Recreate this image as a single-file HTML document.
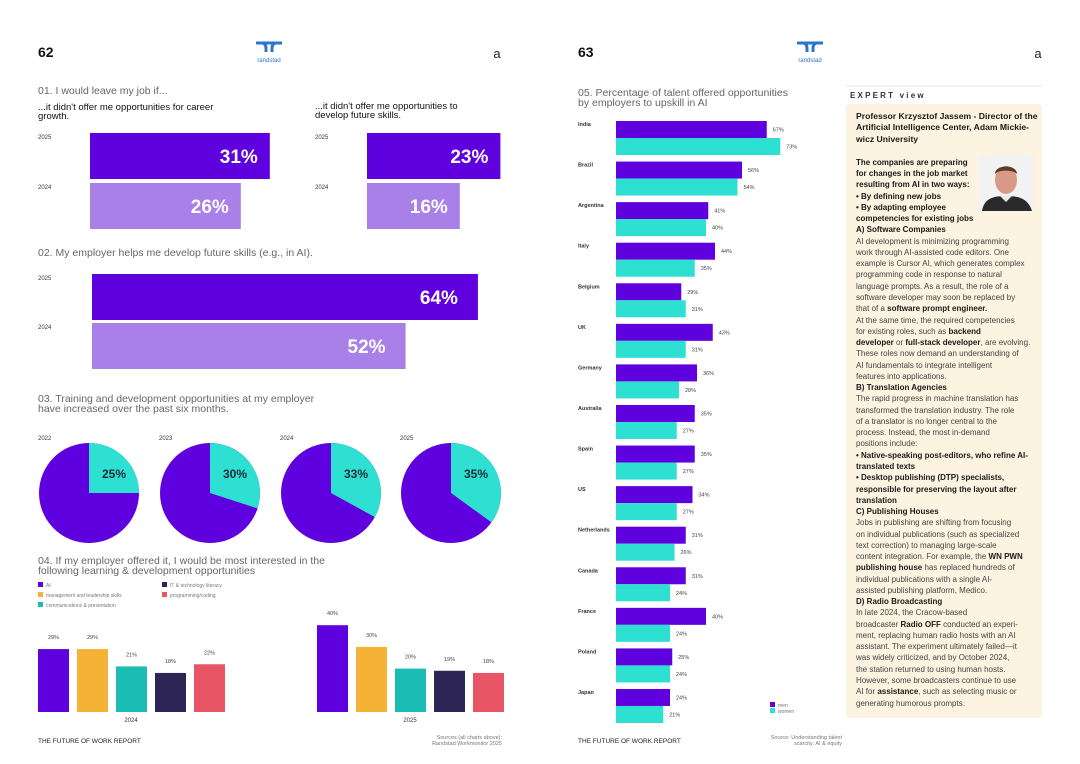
<!DOCTYPE html>
<html><head><meta charset="utf-8"><style>
body{margin:0;background:#fff;}
svg{display:block;font-family:"Liberation Sans",sans-serif;}
.exp{position:absolute;left:856px;top:111px;font-family:"Liberation Sans",sans-serif;font-size:8px;line-height:11.27px;color:#444;white-space:nowrap;}
.exp b{color:#1a1a1a;}
</style></head><body>
<div style="position:relative;width:1080px;height:764px;overflow:hidden">
<svg id="s" width="1080" height="764" viewBox="0 0 1080 764">
 <g>
  <text x="38" y="57" font-size="14" font-weight="bold" fill="#111">62</text>
  <path d="M256 43h26M262 43c2 0 4 2 4 5v4M276 43c-2 0-4 2-4 5v4" stroke="#2e74c8" stroke-width="3" fill="none"/>
  <text x="269" y="62" font-size="6" fill="#2e74c8" text-anchor="middle">randstad</text>
  <text x="497" y="58" font-size="13" fill="#222" text-anchor="middle">a</text>
 </g>
 <g>
  <text x="578" y="57" font-size="14" font-weight="bold" fill="#111">63</text>
  <path d="M797 43h26M803 43c2 0 4 2 4 5v4M817 43c-2 0-4 2-4 5v4" stroke="#2e74c8" stroke-width="3" fill="none"/>
  <text x="810" y="62" font-size="6" fill="#2e74c8" text-anchor="middle">randstad</text>
  <text x="1038" y="58" font-size="13" fill="#222" text-anchor="middle">a</text>
 </g>
 <g fill="#666" font-size="10.5">
  <text x="38" y="94">01. I would leave my job if...</text>
  <text x="38" y="256">02. My employer helps me develop future skills (e.g., in AI).</text>
  <text x="38" y="402">03. Training and development opportunities at my employer</text>
  <text x="38" y="412">have increased over the past six months.</text>
  <text x="38" y="564">04. If my employer offered it, I would be most interested in the</text>
  <text x="38" y="574">following learning &amp; development opportunities</text>
  <text x="578" y="96">05. Percentage of talent offered opportunities</text>
  <text x="578" y="106">by employers to upskill in AI</text>
 </g>
 <g fill="#111" font-size="9.5">
  <text x="38" y="110">...it didn't offer me opportunities for career</text>
  <text x="38" y="119">growth.</text>
  <text x="315" y="109">...it didn't offer me opportunities to</text>
  <text x="315" y="118">develop future skills.</text>
 </g>
 <g id="q1"></g>
 <g id="q2"></g>
 <g id="q3"></g>
 <g id="q4"></g>
 <g id="q5"></g>
 <g font-size="6.5" fill="#222">
  <text x="38" y="743">THE FUTURE OF WORK REPORT</text>
  <text x="578" y="743">THE FUTURE OF WORK REPORT</text>
  <text x="502" y="739" text-anchor="end" fill="#777" font-size="5.5">Sources (all charts above):</text>
  <text x="502" y="745" text-anchor="end" fill="#777" font-size="5.5">Randstad Workmonitor 2025</text>
  <text x="842" y="739" text-anchor="end" fill="#777" font-size="5.5">Source: Understanding talent</text>
  <text x="842" y="745" text-anchor="end" fill="#777" font-size="5.5">scarcity: AI &amp; equity</text>
 </g>
 <line x1="846" y1="86" x2="1042" y2="86" stroke="#e6e6e6"/>
 <text x="850" y="98" font-size="8" font-weight="bold" letter-spacing="2.2" fill="#333">EXPERT view</text>
 <rect x="846" y="104" width="196" height="614" rx="4" fill="#fcf3e0"/>
 <g>
  <rect x="978" y="155" width="56" height="56" fill="#f2f2f2"/>
  <path d="M982 211c2-12 10-15 24-15s22 3 26 15z" fill="#2a2a2a"/>
  <path d="M1000 196l6 6 6-6z" fill="#e8e8e8"/>
  <ellipse cx="1006" cy="180" rx="11" ry="14" fill="#d89a86"/>
  <path d="M995 174c0-10 22-10 22 0c-3-4-18-5-22 0z" fill="#5a3a2a"/>
 </g>
</svg>
<div class="exp">
<b style="font-size:8.6px">Professor Krzysztof Jassem - Director of the</b><br>
<b style="font-size:8.6px">Artificial Intelligence Center, Adam Mickie-</b><br>
<b style="font-size:8.6px">wicz University</b><br>
<div style="height:12px"></div>
<b>The companies are preparing</b><br>
<b>for changes in the job market</b><br>
<b>resulting from AI in two ways:</b><br>
<b>• By defining new jobs</b><br>
<b>• By adapting employee</b><br>
<b>competencies for existing jobs</b><br>
<b>A) Software Companies</b><br>
AI development is minimizing programming<br>
work through AI-assisted code editors. One<br>
example is Cursor AI, which generates complex<br>
programming code in response to natural<br>
language prompts. As a result, the role of a<br>
software developer may soon be replaced by<br>
that of a <b>software prompt engineer.</b><br>
At the same time, the required competencies<br>
for existing roles, such as <b>backend</b><br>
<b>developer</b> or <b>full-stack developer</b>, are evolving.<br>
These roles now demand an understanding of<br>
AI fundamentals to integrate intelligent<br>
features into applications.<br>
<b>B) Translation Agencies</b><br>
The rapid progress in machine translation has<br>
transformed the translation industry. The role<br>
of a translator is no longer central to the<br>
process. Instead, the most in-demand<br>
positions include:<br>
<b>• Native-speaking post-editors, who refine AI-</b><br>
<b>translated texts</b><br>
<b>• Desktop publishing (DTP) specialists,</b><br>
<b>responsible for preserving the layout after</b><br>
<b>translation</b><br>
<b>C) Publishing Houses</b><br>
Jobs in publishing are shifting from focusing<br>
on individual publications (such as specialized<br>
text correction) to managing large-scale<br>
content integration. For example, the <b>WN PWN</b><br>
<b>publishing house</b> has replaced hundreds of<br>
individual publications with a single AI-<br>
assisted publishing platform, Medico.<br>
<b>D) Radio Broadcasting</b><br>
In late 2024, the Cracow-based<br>
broadcaster <b>Radio OFF</b> conducted an experi-<br>
ment, replacing human radio hosts with an AI<br>
assistant. The experiment ultimately failed—it<br>
was widely criticized, and by October 2024,<br>
the station returned to using human hosts.<br>
However, some broadcasters continue to use<br>
AI for <b>assistance</b>, such as selecting music or<br>
generating humorous prompts.
</div>
</div>
<script>
const q1Years = ['2025','2024'];
const q1Career = [31, 26];
const q1Skills = [23, 16];
const q2Years = ['2025','2024'];
const q2Values = [64, 52];
const q3Years = ['2022','2023','2024','2025'];
const q3Values = [25, 30, 33, 35];
const q4Categories = ['AI','management and leadership skills','communications & presentation','IT & technology literacy','programming/coding'];
const q4Groups = ['2024','2025'];
const q4Values2024 = [29, 29, 21, 18, 22];
const q4Values2025 = [40, 30, 20, 19, 18];
const q5Countries = ['India','Brazil','Argentina','Italy','Belgium','UK','Germany','Australia','Spain','US','Netherlands','Canada','France','Poland','Japan'];
const q5Men = [67,56,41,44,29,43,36,35,35,34,31,31,40,25,24];
const q5Women = [73,54,40,35,31,31,28,27,27,27,26,24,24,24,21];

const NS='http://www.w3.org/2000/svg';
function mk(parent,tag,attrs,txt){const e=document.createElementNS(NS,tag);for(const k in attrs)e.setAttribute(k,attrs[k]);if(txt!=null)e.textContent=txt;parent.appendChild(e);return e;}
const PURPLE='#5f00de',LPURPLE='#a97fe8',TEAL='#2ee0d2';

(function(){
 const g=document.getElementById('q1');
 const sx=v=>v*5.8; const ys=[133,183]; const h=46;
 [[q1Career,90,38],[q1Skills,367,315]].forEach(([vals,x0,lx],ci)=>{
  vals.forEach((v,i)=>{
   const r=mk(g,'rect',{x:x0,y:ys[i],width:sx(v),height:h,fill:i==0?PURPLE:LPURPLE});
   
   
   mk(g,'text',{x:lx,y:ys[i]+6,'font-size':6,fill:'#333'},q1Years[i]);
   mk(g,'text',{x:x0+sx(v)-12,y:ys[i]+h/2+7,'font-size':19,'font-weight':'bold',fill:'#fff','text-anchor':'end'},v+'%');
  });
 });
})();
(function(){
 const g=document.getElementById('q2');
 const sx=v=>v*6.03; const ys=[274,323]; const h=46;
 q2Values.forEach((v,i)=>{
  const r=mk(g,'rect',{x:92,y:ys[i],width:sx(v),height:h,fill:i==0?PURPLE:LPURPLE});
  
  
  mk(g,'text',{x:38,y:ys[i]+6,'font-size':6,fill:'#333'},q2Years[i]);
  mk(g,'text',{x:92+sx(v)-20,y:ys[i]+h/2+7,'font-size':19,'font-weight':'bold',fill:'#fff','text-anchor':'end'},v+'%');
 });
})();
(function(){
 const g=document.getElementById('q3');
 const cxs=[89,210,331,451], cy=493, r=50;
 q3Values.forEach((v,i)=>{
  const cx=cxs[i];
  const c=mk(g,'circle',{cx,cy,r,fill:PURPLE});
  
  
  const a=v/100*2*Math.PI;
  const ex=cx+r*Math.sin(a), ey=cy-r*Math.cos(a);
  const p=mk(g,'path',{d:`M${cx} ${cy}L${cx} ${cy-r}A${r} ${r} 0 ${v>50?1:0} 1 ${ex} ${ey}Z`,fill:TEAL});
  
  
  mk(g,'text',{x:cx-51,y:440,'font-size':6,fill:'#333'},q3Years[i]);
  mk(g,'text',{x:cx+25,y:478,'font-size':12,'font-weight':'bold',fill:'#1d2b3a','text-anchor':'middle'},v+'%');
 });
})();
(function(){
 const g=document.getElementById('q4');
 const cols=[PURPLE,'#f5b335','#1abcb4','#2e2557','#e85665'];
 const lpos=[[38,585],[38,595],[38,605],[162,585],[162,595]];
 q4Categories.forEach((c,i)=>{
  const r=mk(g,'rect',{x:lpos[i][0],y:lpos[i][1]-3,width:5,height:5,fill:cols[i]});
  
  
  mk(g,'text',{x:lpos[i][0]+8,y:lpos[i][1]+2,'font-size':5,fill:'#777'},c);
 });
 const base=712, sy=v=>v*2.17;
 [[q4Values2024,38],[q4Values2025,317]].forEach(([vals,x0],gi)=>{
  vals.forEach((v,i)=>{
   const x=x0+i*39;
   const r=mk(g,'rect',{x,y:base-sy(v),width:31,height:sy(v),fill:cols[i]});
   
   
   mk(g,'text',{x:x+15.5,y:base-sy(v)-10,'font-size':5.5,fill:'#444','text-anchor':'middle'},v+'%');
  });
  mk(g,'text',{x:x0+93,y:722,'font-size':6,fill:'#333','text-anchor':'middle'},q4Groups[gi]);
 });
})();
(function(){
 const g=document.getElementById('q5');
 const x0=616, sx=v=>v*2.25, top=121, step=40.57, h=17;
 q5Countries.forEach((c,i)=>{
  const y=top+i*step;
  mk(g,'text',{x:578,y:y+5,'font-size':5.5,'font-weight':'bold',fill:'#333'},c);
  const m=mk(g,'rect',{x:x0,y,width:sx(q5Men[i]),height:h,fill:PURPLE});
  
  
  const w=mk(g,'rect',{x:x0,y:y+h,width:sx(q5Women[i]),height:h,fill:TEAL});
  
  
  mk(g,'text',{x:x0+sx(q5Men[i])+6,y:y+h/2+2,'font-size':5.5,fill:'#444'},q5Men[i]+'%');
  mk(g,'text',{x:x0+sx(q5Women[i])+6,y:y+h*1.5+2,'font-size':5.5,fill:'#444'},q5Women[i]+'%');
 });
 mk(g,'rect',{x:770,y:702,width:5,height:5,fill:PURPLE});
 mk(g,'rect',{x:770,y:708,width:5,height:5,fill:TEAL});
 mk(g,'text',{x:778,y:707,'font-size':5,fill:'#777'},'men');
 mk(g,'text',{x:778,y:713,'font-size':5,fill:'#777'},'women');
})();
</script>
</body></html>
